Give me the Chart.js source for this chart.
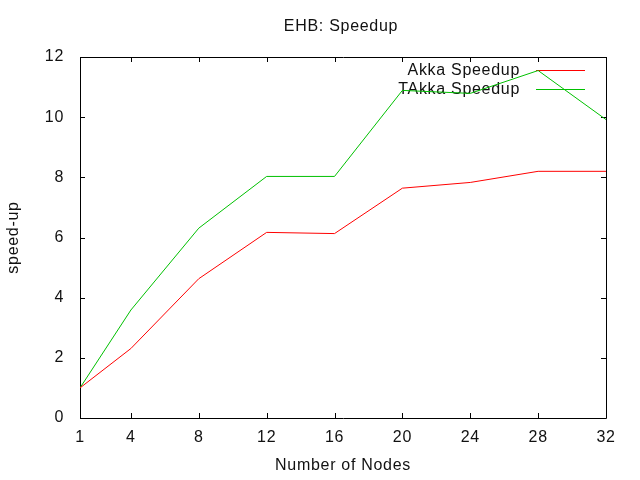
<!DOCTYPE html>
<html>
<head>
<meta charset="utf-8">
<script src="https://cdn.jsdelivr.net/npm/chart.js@4.4.0/dist/chart.umd.min.js"></script>
<style>
  body { margin: 0; background: #fff; }
</style>
</head>
<body>
<canvas id="chartSpeedup" width="640" height="480"></canvas>
<script>
// datos
const nodos = [1, 4, 8, 12, 16, 20, 24, 28, 32];
const akka = [1.0, 2.31, 4.63, 6.17, 6.13, 7.64, 7.83, 8.2, 8.2];
const takka = [1.0, 3.59, 6.31, 8.03, 8.03, 10.89, 10.79, 11.55, 9.92];
const ticksY = [0, 2, 4, 6, 8, 10, 12];
const titulo = 'EHB: Speedup';

const fuente = '"Liberation Sans", Arial, sans-serif';
Chart.defaults.color = '#111';
Chart.defaults.font.family = fuente;
Chart.defaults.font.size = 16;

// marco con ticks hacia dentro, titulo y leyenda al estilo gnuplot
const marcoGnuplot = {
    id: 'marcoGnuplot',
    beforeUpdate(chart) { chart.ctx.letterSpacing = '0.7px'; },
    beforeDraw(chart) { chart.ctx.letterSpacing = '0.7px'; },
    beforeDatasetsDraw(chart) {
        const { ctx, chartArea: a, scales: { x, y } } = chart;
        ctx.save();
        ctx.strokeStyle = '#000';
        ctx.lineWidth = 1;
        ctx.beginPath();
        ctx.rect(a.left + 0.5, a.top + 0.5, a.right - a.left, a.bottom - a.top);
        x.ticks.forEach(t => {
            const px = Math.round(x.getPixelForValue(t.value)) + 0.5;
            ctx.moveTo(px, a.bottom); ctx.lineTo(px, a.bottom - 5);
            ctx.moveTo(px, a.top); ctx.lineTo(px, a.top + 5);
        });
        y.ticks.forEach(t => {
            const py = Math.round(y.getPixelForValue(t.value)) + 0.5;
            ctx.moveTo(a.left, py); ctx.lineTo(a.left + 5, py);
            ctx.moveTo(a.right, py); ctx.lineTo(a.right - 5, py);
        });
        ctx.stroke();

        ctx.font = '16px ' + fuente;
        ctx.fillStyle = '#111';
        ctx.textAlign = 'center';
        ctx.textBaseline = 'middle';
        ctx.fillText(titulo, (a.left + a.right) / 2 - 2, 27);

        ctx.textAlign = 'right';
        chart.data.datasets.forEach((ds, i) => {
            const ly = Math.round(a.top + 13 + i * 19) + 0.5;
            ctx.fillStyle = '#111';
            ctx.fillText(ds.label, a.right - 86, ly);
            ctx.strokeStyle = ds.borderColor;
            ctx.beginPath();
            ctx.moveTo(a.right - 70, ly);
            ctx.lineTo(a.right - 21, ly);
            ctx.stroke();
        });
        ctx.restore();
    }
};

const ctx = document.getElementById('chartSpeedup').getContext('2d');
new Chart(ctx, {
    type: 'line',
    data: {
        datasets: [{
            label: 'Akka Speedup',
            data: nodos.map((n, i) => ({ x: n, y: akka[i] })),
            borderColor: '#ff0000',
            borderWidth: 1,
            pointRadius: 0,
            tension: 0
        }, {
            label: 'TAkka Speedup',
            data: nodos.map((n, i) => ({ x: n, y: takka[i] })),
            borderColor: '#00c000',
            borderWidth: 1,
            pointRadius: 0,
            tension: 0
        }]
    },
    options: {
        responsive: false,
        animation: false,
        devicePixelRatio: 1,
        layout: { padding: { left: 0, right: 34, top: 57, bottom: 0 } },
        plugins: {
            legend: { display: false },
            tooltip: { enabled: false }
        },
        scales: {
            x: {
                type: 'linear',
                min: 1,
                max: 32,
                grid: { display: false, drawTicks: false },
                border: { display: false },
                afterBuildTicks: s => { s.ticks = nodos.map(v => ({ value: v })); },
                afterFit: s => { s.height = 62; },
                ticks: { autoSkip: false, maxRotation: 0, padding: 10 },
                title: {
                    display: true,
                    text: 'Number of Nodes',
                    padding: { top: 0, bottom: 5 }
                }
            },
            y: {
                min: 0,
                max: 12,
                grid: { display: false, drawTicks: false },
                border: { display: false },
                afterBuildTicks: s => { s.ticks = ticksY.map(v => ({ value: v })); },
                afterFit: s => { s.width = 80; },
                ticks: { padding: 16 },
                title: {
                    display: true,
                    text: 'speed-up',
                    padding: { top: 4, bottom: 0 }
                }
            }
        }
    },
    plugins: [marcoGnuplot]
});
</script>
</body>
</html>
